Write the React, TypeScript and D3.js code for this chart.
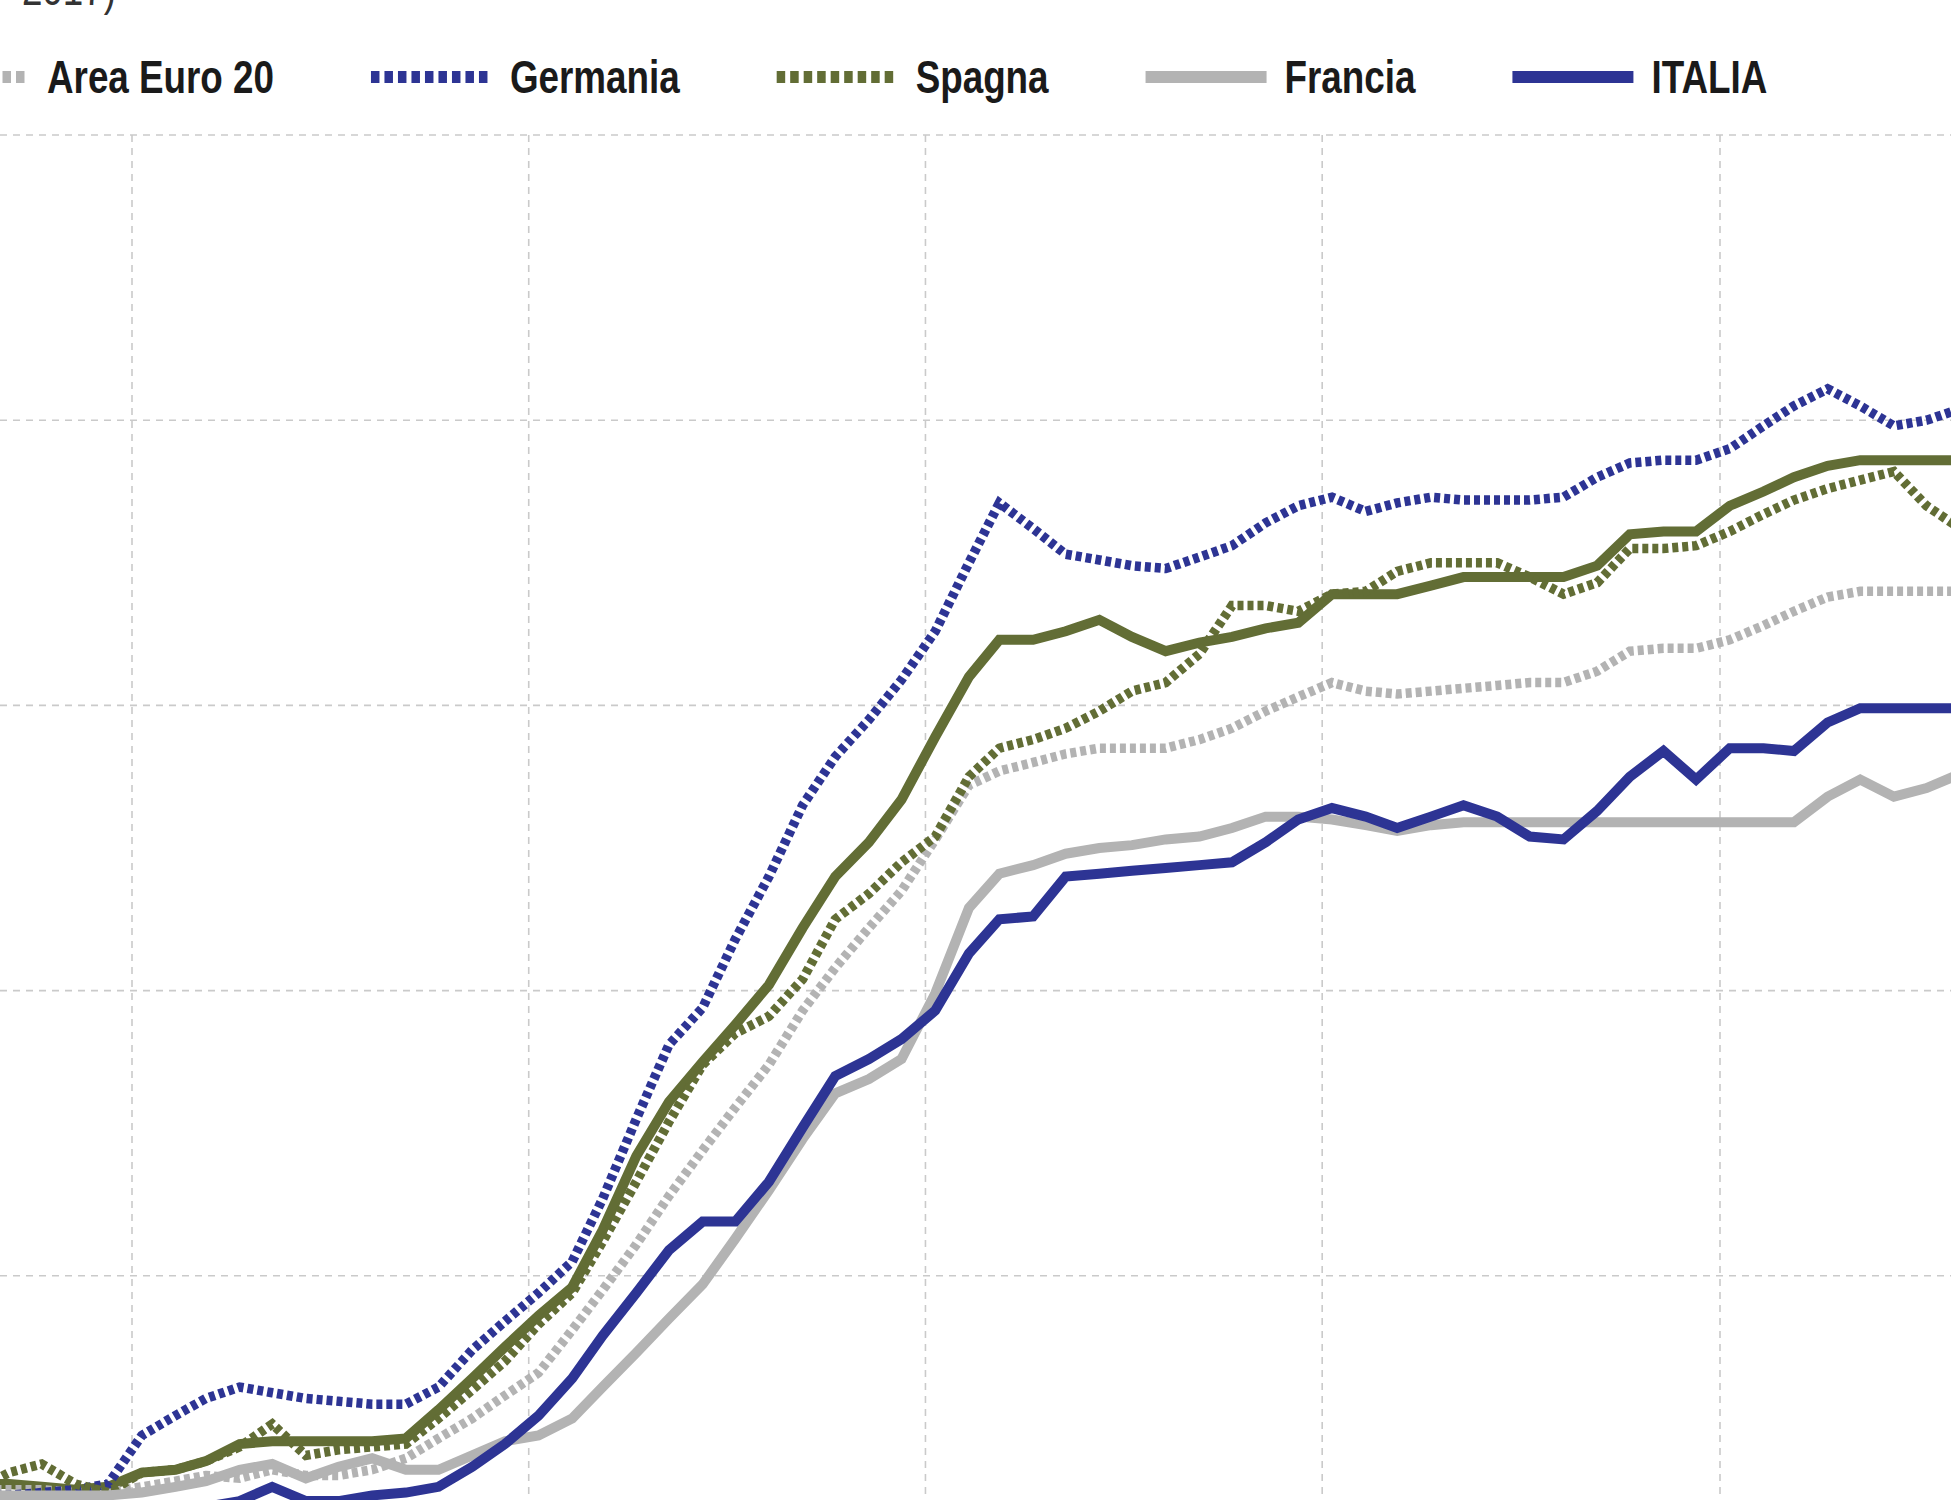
import { useEffect, useRef } from 'react'
import * as d3 from 'd3'

const WIDTH = 1951
const HEIGHT = 1500

// Osservazioni mensili: da agosto 2020 ad agosto 2025 (61 mesi)
const primoMese = new Date(2020, 7, 10)

// Serie continua oliva: la sua voce di legenda resta fuori dal ritaglio
const olivaContinua = [
  102.7, 102.7, 102.6, 102.5, 102.6,
  103.1, 103.2, 103.5, 104.1, 104.2, 104.2, 104.2, 104.2, 104.3, 105.3,
  106.4, 107.5, 108.6, 109.6, 111.6, 114.2, 116.1, 117.5, 118.8, 120.2,
  122.2, 124.0, 125.2, 126.7, 128.9, 131.0, 132.3, 132.3, 132.6, 133.0,
  132.4, 131.9, 132.2, 132.4, 132.7, 132.9, 133.9, 133.9, 133.9, 134.2,
  134.5, 134.5, 134.5, 134.5, 134.9, 136.0, 136.1, 136.1, 137.0, 137.5,
  138.0, 138.4, 138.6, 138.6, 138.6, 138.6
]

const areaEuro20 = [
  102.5, 102.5, 102.5, 102.4, 102.4,
  102.6, 102.8, 103.0, 102.9, 103.2, 103.0, 103.0, 103.2, 103.6, 104.3,
  105.0, 105.8, 106.6, 108.1, 109.5, 111.1, 112.8, 114.4, 115.9, 117.4,
  119.3, 120.8, 122.2, 123.5, 125.3, 127.2, 127.7, 128.0, 128.3, 128.5,
  128.5, 128.5, 128.8, 129.2, 129.8, 130.3, 130.8, 130.5, 130.4, 130.5,
  130.6, 130.7, 130.8, 130.8, 131.2, 131.9, 132.0, 132.0, 132.3, 132.8,
  133.3, 133.8, 134.0, 134.0, 134.0, 134.0
]

const germania = [
  102.3, 102.3, 102.4, 102.5, 102.7,
  104.4, 105.1, 105.7, 106.1, 105.9, 105.7, 105.6, 105.5, 105.5, 106.1,
  107.4, 108.4, 109.4, 110.5, 112.7, 115.5, 118.1, 119.4, 121.8, 124.0,
  126.5, 128.2, 129.5, 130.9, 132.6, 135.0, 137.1, 136.2, 135.3, 135.1,
  134.9, 134.8, 135.2, 135.6, 136.4, 137.0, 137.3, 136.8, 137.1, 137.3,
  137.2, 137.2, 137.2, 137.3, 138.0, 138.5, 138.6, 138.6, 139.0, 139.8,
  140.5, 141.1, 140.5, 139.8, 140.0, 140.4
]

const spagna = [
  102.5, 103.1, 103.4, 102.7, 102.4,
  103.1, 103.2, 103.5, 104.0, 104.8, 103.7, 103.9, 104.0, 104.1, 105.0,
  106.0, 107.0, 108.3, 109.4, 111.2, 113.3, 115.4, 117.4, 118.5, 119.1,
  120.4, 122.5, 123.4, 124.5, 125.4, 127.5, 128.5, 128.8, 129.2, 129.8,
  130.5, 130.8, 131.8, 133.5, 133.5, 133.3, 133.9, 134.0, 134.7, 135.0,
  135.0, 135.0, 134.5, 133.9, 134.3, 135.5, 135.5, 135.6, 136.1, 136.7,
  137.2, 137.6, 137.9, 138.2, 137.0, 136.2
]

const francia = [
  102.3, 102.3, 102.3, 102.3, 102.3,
  102.4, 102.6, 102.8, 103.2, 103.4, 102.9, 103.3, 103.6, 103.2, 103.2,
  103.7, 104.2, 104.4, 105.0, 106.1, 107.3, 108.5, 109.7, 111.3, 113.0,
  114.8, 116.4, 116.9, 117.6, 119.9, 122.9, 124.1, 124.4, 124.8, 125.0,
  125.1, 125.3, 125.4, 125.7, 126.1, 126.1, 126.0, 125.8, 125.6, 125.8,
  125.9, 125.9, 125.9, 125.9, 125.9, 125.9, 125.9, 125.9, 125.9, 125.9,
  125.9, 126.8, 127.4, 126.8, 127.1, 127.6
]

const italia = [
  101.3, 101.3, 101.4, 101.4, 101.5,
  101.6, 101.7, 101.9, 102.1, 102.6, 102.1, 102.1, 102.3, 102.4, 102.6,
  103.3, 104.1, 105.1, 106.4, 107.9, 109.4, 110.9, 111.9, 111.9, 113.3,
  115.2, 117.0, 117.6, 118.3, 119.3, 121.3, 122.5, 122.6, 124.0, 124.1,
  124.2, 124.3, 124.4, 124.5, 125.2, 126.0, 126.4, 126.1, 125.7, 126.1,
  126.5, 126.1, 125.4, 125.3, 126.3, 127.5, 128.4, 127.4, 128.5, 128.5,
  128.4, 129.4, 129.9, 129.9, 129.9, 129.9
]

const anniGriglia = [2021, 2022, 2023, 2024, 2025]
const livelliGriglia = [110, 120, 130, 140, 150]
const titoloVisibile = '2017)'

const BLU = '#2D3494'
const OLIVA = '#626D35'
const GRIGIO = '#B3B3B3'

const serie = [
  { nome: '', valori: olivaContinua, colore: OLIVA, punteggiata: false, legenda: false },
  { nome: 'Area Euro 20', valori: areaEuro20, colore: GRIGIO, punteggiata: true, legenda: true },
  { nome: 'Germania', valori: germania, colore: BLU, punteggiata: true, legenda: true },
  { nome: 'Spagna', valori: spagna, colore: OLIVA, punteggiata: true, legenda: true },
  { nome: 'Francia', valori: francia, colore: GRIGIO, punteggiata: false, legenda: true },
  { nome: 'ITALIA', valori: italia, colore: BLU, punteggiata: false, legenda: true }
]

// Nessun font "narrow" installato: si stringe il Liberation Sans in orizzontale
const FONT = "'Liberation Sans', Arial, sans-serif"
const STRETTO = 0.8

export default function App() {
  const svgRef = useRef<SVGSVGElement>(null)

  useEffect(() => {
    if (!svgRef.current) return
    document.body.style.margin = '0'

    const svg = d3.select(svgRef.current)
    svg.selectAll('*').remove()

    const x = d3.scaleTime()
      .domain([new Date(2021, 0, 1), new Date(2025, 0, 1)])
      .range([132, 1720])

    const y = d3.scaleLinear()
      .domain([100, 150])
      .range([1561, 135])

    const mese = (i: number) => d3.timeMonth.offset(primoMese, i)

    // Griglia tratteggiata
    const griglia = svg.append('g')
    livelliGriglia.forEach(v => {
      griglia.append('line')
        .attr('x1', 0)
        .attr('x2', WIDTH)
        .attr('y1', y(v))
        .attr('y2', y(v))
        .style('stroke', '#cacaca')
        .style('stroke-width', '1.6px')
        .style('stroke-dasharray', '7,6')
    })
    anniGriglia.forEach(a => {
      griglia.append('line')
        .attr('x1', x(new Date(a, 0, 1)))
        .attr('x2', x(new Date(a, 0, 1)))
        .attr('y1', y(150))
        .attr('y2', HEIGHT)
        .style('stroke', '#cacaca')
        .style('stroke-width', '1.6px')
        .style('stroke-dasharray', '7,6')
    })

    // Linee
    const linea = d3.line<number>()
      .x((_, i) => x(mese(i)))
      .y(d => y(d))

    serie.forEach(s => {
      svg.append('path')
        .datum(s.valori)
        .attr('d', linea)
        .style('fill', 'none')
        .style('stroke', s.colore)
        .style('stroke-width', s.punteggiata ? '9.5px' : '10px')
        .style('stroke-dasharray', s.punteggiata ? '6,4' : null)
        .style('stroke-linejoin', 'miter')
    })

    // Titolo (tagliato in alto)
    svg.append('text')
      .attr('transform', `translate(116,5) scale(${STRETTO},1)`)
      .attr('text-anchor', 'end')
      .style('fill', '#333')
      .style('font-size', '46px')
      .style('font-family', FONT)
      .text(titoloVisibile)

    // Legenda
    let cursore = -92
    serie.filter(s => s.legenda).forEach(s => {
      svg.append('line')
        .attr('x1', cursore)
        .attr('x2', cursore + 121)
        .attr('y1', 77)
        .attr('y2', 77)
        .style('stroke', s.colore)
        .style('stroke-width', '12px')
        .style('stroke-dasharray', s.punteggiata ? '8.5,5' : null)

      const t = svg.append('text')
        .attr('transform', `translate(${cursore + 139},93) scale(${STRETTO},1)`)
        .style('fill', '#1a1a1a')
        .style('font-size', '46px')
        .style('font-weight', '700')
        .style('font-family', FONT)
        .text(s.nome)

      const w = (t.node() as SVGTextElement).getComputedTextLength() * STRETTO
      cursore += 139 + w + 97
    })
  }, [])

  return (
    <svg
      ref={svgRef}
      width={WIDTH}
      height={HEIGHT}
      style={{ position: 'absolute', left: 0, top: 0, display: 'block', background: '#fff' }}
    />
  )
}
